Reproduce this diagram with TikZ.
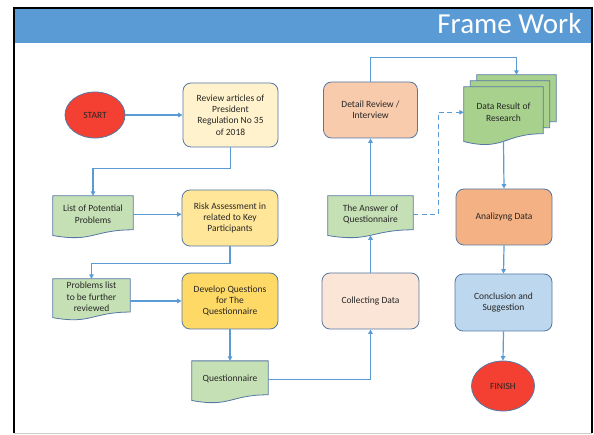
\documentclass[tikz,border=0pt]{standalone}
\usepackage{fontspec}
\setmainfont{Carlito}
\usetikzlibrary{shapes.geometric,arrows.meta,calc,backgrounds}

\definecolor{cline}{RGB}{91,155,213}
\definecolor{cedge}{RGB}{84,120,165}
\definecolor{chead}{RGB}{91,155,213}
\definecolor{cred}{RGB}{244,64,50}
\definecolor{cgreen}{RGB}{197,224,180}
\definecolor{cgreenb}{RGB}{169,209,142}
\definecolor{ccream}{RGB}{255,242,204}
\definecolor{cgold}{RGB}{255,230,153}
\definecolor{cyellow}{RGB}{255,217,102}
\definecolor{cpeach}{RGB}{248,203,173}
\definecolor{cskin}{RGB}{251,229,214}
\definecolor{corange}{RGB}{244,177,131}
\definecolor{cblue}{RGB}{189,215,238}
\definecolor{ctext}{RGB}{38,38,38}

\newcommand{\docshape}[2]{%
  \path[draw=cedge,line width=0.8pt,fill=#2] (#1.north west) -- (#1.north east)
    -- ($(#1.north east)!0.92!(#1.south east)$)
    .. controls ($(#1.north)!0.92!(#1.south)$) and ($(#1.north)!1.27!(#1.south)$)
    .. ($(#1.north west)!1.074!(#1.south west)$) -- cycle;}

\begin{document}
\begin{tikzpicture}[x=1pt,y=-1pt,
        font=\fontsize{9.5}{11.3}\selectfont,text=ctext,
        box/.style={rectangle,rounded corners=8pt,draw=cedge,line width=0.8pt,align=center,
          inner sep=2pt,minimum width=96pt,minimum height=56pt},
        term/.style={ellipse,draw=cedge,line width=0.8pt,fill=cred,inner sep=0pt},
        doc/.style={rectangle,align=center,inner sep=0pt},
        arr/.style={draw=cline,line width=1.2pt,-{Triangle[length=4.5pt,width=4.5pt]}}]
      \useasboundingbox (0,0) rectangle (594,435);
      \fill[chead] (15,9) rectangle (592,43);
      \draw[line width=1.5pt] (14,433) -- (14,8) -- (592,8) -- (592,433);
      \draw[black!20,line width=1pt] (14,433) -- (592,433);
      \node[anchor=base east,font=\fontsize{29}{31}\selectfont,text=white] (title) at (585,34) {Frame Work};

      \node[term,minimum width=60pt,minimum height=46pt] (start) at (95,115) {START};
      \node[box,fill=ccream,minimum width=95pt,minimum height=64pt] (review) at (230.5,115)
        {Review articles of\\President\\Regulation No 35\\of 2018};
      \node[doc,minimum width=80pt,minimum height=36.5pt] (list) at (93,214.3) {List of Potential\\Problems};
      \node[box,fill=cgold] (risk) at (230,218) {Risk Assessment in\\related to Key\\Participants};
      \node[doc,minimum width=77pt,minimum height=35.7pt] (problems) at (91.5,296.9)
        {Problems list\\to be further\\reviewed};
      \node[box,fill=cyellow] (develop) at (230,301) {Develop Questions\\for The\\Questionnaire};
      \node[doc,minimum width=76pt,minimum height=36.5pt] (quest) at (230,379.3) {Questionnaire};
      \node[box,fill=cskin,minimum width=97pt] (collect) at (370.5,301) {Collecting Data};
      \node[doc,minimum width=85pt,minimum height=36.5pt] (answer) at (370.5,214.3) {The Answer of\\Questionnaire};
      \node[box,fill=cpeach,minimum width=94pt] (detail) at (370.5,110) {Detail Review /\\Interview};
      \node[doc,minimum width=79pt,minimum height=50.5pt] (data3) at (516.5,100.3) {};
      \node[doc,minimum width=79pt,minimum height=50.5pt] (data2) at (510,106.3) {};
      \node[doc,minimum width=79pt,minimum height=50.5pt] (data) at (503.5,112.3) {Data Result of\\Research};
      \node[box,fill=corange] (analyze) at (504,217) {Analizyng Data};
      \node[box,fill=cblue,minimum width=97pt,minimum height=57pt] (concl) at (503.5,302.5)
        {Conclusion and\\Suggestion};
      \node[term,minimum width=63pt,minimum height=50pt] (finish) at (503,386) {FINISH};

      \begin{scope}[on background layer]
        \foreach \n/\c in {list/cgreen,problems/cgreen,quest/cgreen,answer/cgreen,
            data3/cgreenb,data2/cgreenb,data/cgreenb} {
          \docshape{\n}{\c}
        }
      \end{scope}

      \coordinate (answerbot) at ($(answer.north)!1.07!(answer.south)$);
      \coordinate (databot) at ($(data.north)!1.07!(data.south)$);

      \draw[arr] (start.east) -- (review.west);
      \draw[arr] (review.south) -- ++(0,21) -| (list.north);
      \draw[arr] (list.east) -- (list.east -| risk.west);
      \draw[arr] (risk.south) -- ++(0,17) -| (problems.north);
      \draw[arr] (develop.west -| problems.east) -- (develop.west);
      \draw[arr] (develop.south) -- (quest.north);
      \draw[arr] (quest.east) -| (collect.south);
      \draw[arr] (collect.north) -- (answerbot);
      \draw[arr] (answer.north) -- (detail.south);
      \draw[arr] (detail.north) -- ++(0,-24) -| (data3.north);
      \draw[arr,dash pattern=on 5pt off 3.5pt] (answer.east) -- ++(25,0) |- (data.west);
      \draw[arr] (databot) -- (analyze.north);
      \draw[arr] (analyze.south) -- (concl.north);
      \draw[arr] (concl.south) -- (finish.north);
    \end{tikzpicture}
\end{document}
